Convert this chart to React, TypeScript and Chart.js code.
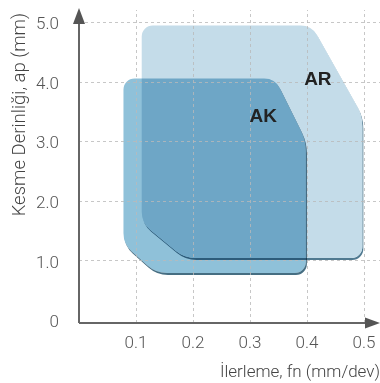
import React, { useEffect, useRef } from "react";
import { Chart, registerables } from "chart.js";

Chart.register(...registerables);

// ---- data ----
const AR_X = [0.11, 0.408, 0.497, 0.497, 0.185, 0.11];
const AR_Y = [4.94, 4.94, 3.43, 1.04, 1.04, 1.63];
const AK_X = [0.078, 0.344, 0.398, 0.398, 0.135, 0.078];
const AK_Y = [4.05, 4.05, 3.01, 0.79, 0.79, 1.27];
const SERIES_NAMES = ["AR", "AK"];
const LABEL_POS_X = [0.419, 0.323];
const LABEL_POS_Y = [4.05, 3.43];
const X_TICKS = [0.1, 0.2, 0.3, 0.4, 0.5];
const X_TICK_LABELS = ["0.1", "0.2", "0.3", "0.4", "0.5"];
const Y_TICKS = [0, 1, 2, 3, 4, 5];
const Y_TICK_LABELS = ["0", "1.0", "2.0", "3.0", "4.0", "5.0"];
const X_TITLE = "İlerleme, fn (mm/dev)";
const Y_TITLE = "Kesme Derinliği, ap (mm)";

const FONT = 'Roboto, "Liberation Sans", Arial, sans-serif';

function addRoundedPath(ctx: CanvasRenderingContext2D, pts: { x: number; y: number }[], d: number) {
  const n = pts.length;
  const a0 = pts[n - 1];
  const b0 = pts[0];
  ctx.moveTo((a0.x + b0.x) / 2, (a0.y + b0.y) / 2);
  for (let i = 0; i < n; i++) {
    const prev = pts[(i - 1 + n) % n];
    const p = pts[i];
    const next = pts[(i + 1) % n];
    const ux = prev.x - p.x, uy = prev.y - p.y;
    const vx = next.x - p.x, vy = next.y - p.y;
    const lu = Math.hypot(ux, uy), lv = Math.hypot(vx, vy);
    const cos = (ux * vx + uy * vy) / (lu * lv);
    const ang = Math.acos(Math.max(-1, Math.min(1, cos)));
    const r = d * Math.tan(ang / 2);
    ctx.arcTo(p.x, p.y, next.x, next.y, r);
  }
  ctx.closePath();
}

const CORNER = 11;

const shapesPlugin = {
  id: "roundedShapes",
  beforeDatasetsDraw(chart: any) {
    const ctx = chart.ctx as CanvasRenderingContext2D;
    const W = chart.width, H = chart.height;
    chart.data.datasets.forEach((ds: any, i: number) => {
      const meta = chart.getDatasetMeta(i);
      const pts = meta.data.map((p: any) => ({ x: p.x, y: p.y }));
      const mode = ds.blendMode || "source-over";
      // rim (shadow) outside the shape, offset down-right
      ctx.save();
      ctx.globalCompositeOperation = mode;
      ctx.beginPath();
      ctx.rect(0, 0, W, H);
      addRoundedPath(ctx, pts, CORNER);
      ctx.clip("evenodd");
      ctx.filter = "blur(0.6px)";
      ctx.translate(1, 2);
      ctx.beginPath();
      addRoundedPath(ctx, pts, CORNER);
      ctx.fillStyle = ds.rimColor;
      ctx.fill();
      ctx.restore();
      // body
      ctx.save();
      ctx.globalCompositeOperation = mode;
      ctx.beginPath();
      addRoundedPath(ctx, pts, CORNER);
      ctx.fillStyle = ds.backgroundColor;
      ctx.fill();
      ctx.restore();
    });
  },
  afterDatasetsDraw(chart: any) {
    const ctx = chart.ctx as CanvasRenderingContext2D;
    const { left, right, top, bottom } = chart.chartArea;
    const xs = chart.scales.x;
    const ys = chart.scales.y;
    ctx.save();
    ctx.strokeStyle = "rgba(185,185,185,0.8)";
    ctx.lineWidth = 1;
    ctx.setLineDash([3, 3]);
    ctx.beginPath();
    X_TICKS.forEach((v) => {
      const x = Math.round(xs.getPixelForValue(v)) + 0.5;
      ctx.moveTo(x, bottom);
      ctx.lineTo(x, top);
    });
    Y_TICKS.forEach((v) => {
      if (v === 0) return;
      const y = Math.round(ys.getPixelForValue(v)) + 0.5;
      ctx.moveTo(left, y);
      ctx.lineTo(right, y);
    });
    ctx.stroke();
    ctx.restore();
  },
  afterDraw(chart: any) {
    const ctx = chart.ctx as CanvasRenderingContext2D;
    const { left, right, top, bottom } = chart.chartArea;
    const xs = chart.scales.x;
    const ys = chart.scales.y;
    ctx.save();
    // axes
    ctx.strokeStyle = "#666";
    ctx.lineWidth = 2;
    ctx.beginPath();
    ctx.moveTo(left, bottom);
    ctx.lineTo(left, top + 14);
    ctx.moveTo(left, bottom);
    ctx.lineTo(right - 14, bottom);
    ctx.stroke();
    ctx.fillStyle = "#555";
    ctx.beginPath();
    ctx.moveTo(left, top - 2);
    ctx.lineTo(left - 6, top + 14);
    ctx.lineTo(left + 6, top + 14);
    ctx.closePath();
    ctx.fill();
    ctx.beginPath();
    ctx.moveTo(right, bottom);
    ctx.lineTo(right - 15, bottom - 5.5);
    ctx.lineTo(right - 15, bottom + 5.5);
    ctx.closePath();
    ctx.fill();
    // series labels
    ctx.fillStyle = "#222";
    ctx.font = 'bold 19px "Liberation Sans", Arial, sans-serif';
    ctx.textAlign = "center";
    ctx.textBaseline = "middle";
    SERIES_NAMES.forEach((name, i) => {
      ctx.fillText(name, xs.getPixelForValue(LABEL_POS_X[i]), ys.getPixelForValue(LABEL_POS_Y[i]) + 1);
    });
    // y axis title
    ctx.translate(20, top + 3);
    ctx.rotate(-Math.PI / 2);
    ctx.fillStyle = "#444";
    ctx.font = `300 18.5px ${FONT}`;
    ctx.textAlign = "right";
    ctx.textBaseline = "middle";
    ctx.fillText(Y_TITLE, 0, 0);
    ctx.restore();
  },
};

const zeroPad = (s: any) => {
  s.paddingLeft = 0;
  s.paddingRight = 0;
  s.paddingTop = 0;
  s.paddingBottom = 0;
};

export default function App() {
  const ref = useRef<HTMLCanvasElement>(null);
  useEffect(() => {
    document.body.style.margin = "0";
    const canvas = ref.current!;
    const mk = (xs: number[], ys: number[]) => xs.map((x, i) => ({ x, y: ys[i] }));
    const chart = new Chart(canvas, {
      type: "scatter",
      data: {
        datasets: [
          {
            label: SERIES_NAMES[0],
            data: mk(AR_X, AR_Y),
            backgroundColor: "#c4dce9",
            rimColor: "rgba(80,122,145,1)",
            blendMode: "source-over",
            pointRadius: 0,
            showLine: false,
          } as any,
          {
            label: SERIES_NAMES[1],
            data: mk(AK_X, AK_Y),
            backgroundColor: "#8fc1d9",
            rimColor: "rgba(70,110,130,1)",
            blendMode: "multiply",
            pointRadius: 0,
            showLine: false,
          } as any,
        ],
      },
      options: {
        animation: false,
        responsive: false,
        events: [],
        layout: { padding: { top: 10, right: 0, left: 0, bottom: 0 } },
        plugins: { legend: { display: false }, tooltip: { enabled: false } },
        scales: {
          x: {
            type: "linear",
            min: 0,
            max: 0.528,
            afterFit: (s: any) => {
              s.height = 60;
              zeroPad(s);
            },
            afterBuildTicks: (s: any) => {
              s.ticks = X_TICKS.map((v) => ({ value: v }));
            },
            ticks: {
              padding: 3,
              color: "#555",
              font: { family: FONT, size: 17, weight: "300" },
              callback: (v: any, i: number) => X_TICK_LABELS[i],
              maxRotation: 0,
              autoSkip: false,
            },
            grid: { display: false },
            border: { display: false },
            title: {
              display: true,
              text: X_TITLE,
              align: "end",
              color: "#444",
              font: { family: FONT, size: 17, weight: "300" },
              padding: { top: 0, bottom: 0 },
            },
          },
          y: {
            type: "linear",
            min: -0.05,
            max: 5.2,
            afterFit: (s: any) => {
              s.width = 79;
              zeroPad(s);
            },
            afterBuildTicks: (s: any) => {
              s.ticks = Y_TICKS.map((v) => ({ value: v }));
            },
            ticks: {
              padding: 12,
              labelOffset: 3,
              color: "#555",
              font: { family: FONT, size: 17, weight: "300" },
              callback: (v: any, i: number) => Y_TICK_LABELS[i],
              autoSkip: false,
            },
            grid: { display: false },
            border: { display: false },
            title: { display: false },
          },
        },
      },
      plugins: [shapesPlugin],
    } as any);
    return () => chart.destroy();
  }, []);
  return <canvas ref={ref} width={380} height={383} style={{ display: "block" }} />;
}
